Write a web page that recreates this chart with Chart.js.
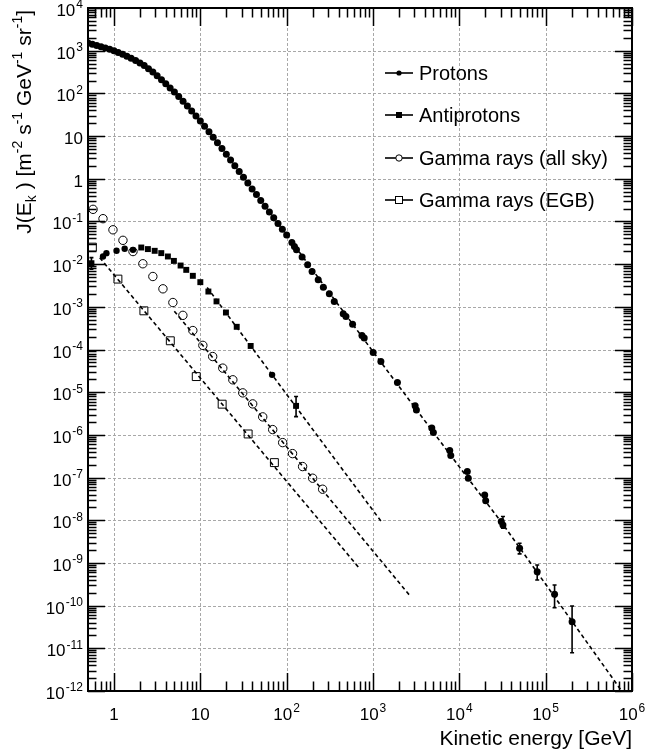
<!doctype html>
<html lang="en">
<head>
<meta charset="utf-8">
<title>Cosmic ray spectra</title>
<script src="https://cdn.jsdelivr.net/npm/chart.js"></script>
<style>
  body { margin: 0; background: #fff; }
  canvas { display: block; }
</style>
</head>
<body>
<canvas id="spectrum" width="647" height="753"></canvas>
<script>
// ---- data ----
const protonE = [0.501, 0.562, 0.631, 0.708, 0.794, 0.891, 1.0, 1.12, 1.26, 1.41, 1.58, 1.78, 2.0, 2.24, 2.51, 2.82,
  3.16, 3.55, 3.98, 4.47, 5.01, 5.62, 6.31, 7.08, 7.94, 8.91, 10, 11.2, 12.6, 14.1, 15.8, 17.8, 20, 22.4, 25.1, 28.2,
  31.6, 35.5, 39.8, 44.7, 50.1, 56.2, 63.1, 70.8, 79.4, 89.1, 100,
  115, 123, 130, 151, 175, 197, 232, 266, 312, 356, 452, 486, 580, 745, 791, 1005, 1234, 1919,
  3076, 3184, 4797, 5003, 7745, 7960, 12370, 12700, 19670, 20200, 30600, 32000, 49900, 79800, 126800, 202300];
const protonJ = [1514, 1422, 1324, 1236, 1153, 1076, 1000, 912, 828, 745, 664, 586, 515, 447, 380, 317,
  258, 209, 168, 134, 108, 84.7, 65.8, 50.7, 38.9, 29.6, 22.5, 17.0, 12.7, 9.44, 6.97, 5.11, 3.74, 2.74, 2.01, 1.47,
  1.08, 0.791, 0.579, 0.425, 0.311, 0.228, 0.167, 0.122, 0.0897, 0.0658, 0.0482,
  0.032, 0.0259, 0.0216, 0.0146, 0.00964, 0.00671, 0.00428, 0.00289, 0.00201, 0.00133, 6.84e-4, 5.92e-4, 3.93e-4,
  2.12e-4, 1.85e-4, 8.47e-5, 5.21e-5, 1.68e-5,
  4.78e-6, 3.84e-6, 1.44e-6, 1.13e-6, 4.29e-7, 3.27e-7, 1.38e-7, 9.66e-8, 3.92e-8, 2.88e-8, 9.29e-9, 7.76e-9,
  2.21e-9, 6.25e-10, 1.85e-10, 4.21e-11];
// error bars on the last proton points (index from the end)
const protonErrLo = [null, 6.5e-9, 1.63e-9, 3.99e-10, 8.95e-11, 7.9e-12];
const protonErrHi = [null, 1.22e-8, 2.89e-9, 8.97e-10, 3.05e-10, 9.82e-11];

const pbarE = [0.548, 2.07, 2.47, 2.96, 3.53, 4.21, 4.94, 5.91, 6.87, 8.19, 10.0, 12.4, 15.4, 19.8, 26.4, 38.3, 128.5];
const pbarJ = [0.0105, 0.0245, 0.0225, 0.0205, 0.0181, 0.0151, 0.0119, 9.27e-3, 7.34e-3, 5.32e-3, 3.78e-3, 2.28e-3,
  1.34e-3, 7.35e-4, 3.40e-4, 1.21e-4, 4.78e-6];
const pbarErrLo = [7.6e-3, null, null, null, null, null, null, null, null, null, null, null, null, null, null, null, 2.68e-6];
const pbarErrHi = [0.0142, null, null, null, null, null, null, null, null, null, null, null, null, null, null, null, 7.9e-6];
// antiproton points drawn with round markers
const pbarDotE = [0.746, 0.817, 1.07, 1.33, 1.66, 67.8];
const pbarDotJ = [0.0151, 0.0181, 0.0205, 0.0229, 0.0216, 2.55e-5];

const allSkyE = [0.572, 0.746, 0.973, 1.27, 1.66, 2.16, 2.82, 3.69, 4.81, 6.28, 8.19, 10.7, 13.9, 18.2, 23.8, 31.0,
  40.4, 52.8, 68.9, 89.9, 117, 153, 200, 261];
const allSkyJ = [0.192, 0.116, 0.0637, 0.0361, 0.0197, 0.0102, 5.13e-3, 2.64e-3, 1.26e-3, 6.31e-4, 2.78e-4, 1.25e-4,
  6.84e-5, 3.66e-5, 1.95e-5, 9.64e-6, 5.32e-6, 2.64e-6, 1.33e-6, 6.59e-7, 3.64e-7, 1.81e-7, 9.66e-8, 5.33e-8];

const egbE = [0.562, 1.11, 2.22, 4.49, 8.97, 17.9, 35.8, 72.1];
const egbJ = [0.025, 4.46e-3, 8.05e-4, 1.60e-4, 2.32e-5, 5.24e-6, 1.05e-6, 2.24e-7];

// dashed model / fit lines
const protonFitE = [79.4, 100, 1000, 1e4, 31600, 1e5, 316000, 760000];
const protonFitJ = [0.0891, 0.0482, 8.91e-5, 1.78e-7, 8.32e-9, 3.16e-10, 1.2e-11, 1e-12];
const pbarFitE = [12, 1290];
const pbarFitJ = [2.83e-3, 8.5e-9];
const allSkyFitE = [5, 2620];
const allSkyFitJ = [7.9e-4, 1.8e-10];
const egbFitE = [0.684, 711];
const egbFitJ = [0.0141, 7.1e-10];

// axis ticks and labels
const xTicks = [1, 10, 100, 1e3, 1e4, 1e5, 1e6];
const xTickLabels = [['1', ''], ['10', ''], ['10', '2'], ['10', '3'], ['10', '4'], ['10', '5'], ['10', '6']];
const yTicks = [1e-12, 1e-11, 1e-10, 1e-9, 1e-8, 1e-7, 1e-6, 1e-5, 1e-4, 1e-3, 1e-2, 1e-1, 1, 10, 100, 1e3, 1e4];
const yTickLabels = [['10', '-12'], ['10', '-11'], ['10', '-10'], ['10', '-9'], ['10', '-8'], ['10', '-7'],
  ['10', '-6'], ['10', '-5'], ['10', '-4'], ['10', '-3'], ['10', '-2'], ['10', '-1'], ['1', ''], ['10', ''],
  ['10', '2'], ['10', '3'], ['10', '4']];
const legendLabels = ['Protons', 'Antiprotons', 'Gamma rays (all sky)', 'Gamma rays (EGB)'];

const FONT = '"Liberation Sans", Arial, Helvetica, sans-serif';

function pts(xs, ys) {
  return xs.map((x, i) => ({ x: x, y: ys[i] }));
}

function padErr(arr, n) {
  // align a short error list with the end of a longer series
  const out = new Array(n - arr.length).fill(null);
  return out.concat(arr);
}

function markers(data, style, radius, filled, order) {
  return {
    data: data,
    showLine: false,
    pointStyle: style,
    pointRadius: radius,
    pointHoverRadius: radius,
    pointBorderWidth: filled ? 0 : 1,
    pointBorderColor: '#000',
    pointBackgroundColor: filled ? '#000' : 'rgba(0,0,0,0)',
    order: order
  };
}

function dashed(data) {
  return {
    data: data,
    showLine: true,
    borderColor: '#000',
    borderWidth: 1.6,
    borderDash: [4, 3],
    pointRadius: 0,
    tension: 0,
    order: 10
  };
}

const protonSet = markers(pts(protonE, protonJ), 'circle', 3.5, true, 1);
protonSet.errLo = padErr(protonErrLo, protonE.length);
protonSet.errHi = padErr(protonErrHi, protonE.length);
const pbarSet = markers(pts(pbarE, pbarJ), 'rect', 4.2, true, 1);
pbarSet.errLo = pbarErrLo;
pbarSet.errHi = pbarErrHi;

function drawPow(ctx, base, exp, x, y, align, size) {
  const small = Math.round(size * 0.7);
  ctx.font = size + 'px ' + FONT;
  const wb = ctx.measureText(base).width;
  ctx.font = small + 'px ' + FONT;
  const we = exp ? ctx.measureText(exp).width + 1 : 0;
  const w = wb + we;
  const x0 = align === 'right' ? x - w : x - w / 2;
  ctx.textAlign = 'left';
  ctx.textBaseline = 'alphabetic';
  ctx.font = size + 'px ' + FONT;
  ctx.fillText(base, x0, y);
  if (exp) {
    ctx.font = small + 'px ' + FONT;
    ctx.fillText(exp, x0 + wb + 1, y - size * 0.45);
  }
}

const gridPlugin = {
  id: 'rootGrid',
  beforeDatasetsDraw(chart) {
    const { ctx, chartArea: a, scales } = chart;
    ctx.save();
    ctx.strokeStyle = '#a8a8a8';
    ctx.lineWidth = 1;
    ctx.setLineDash([3, 2]);
    xTicks.forEach(v => {
      const px = Math.round(scales.x.getPixelForValue(v)) + 0.5;
      ctx.beginPath(); ctx.moveTo(px, a.top); ctx.lineTo(px, a.bottom); ctx.stroke();
    });
    yTicks.forEach(v => {
      const py = Math.round(scales.y.getPixelForValue(v)) + 0.5;
      ctx.beginPath(); ctx.moveTo(a.left, py); ctx.lineTo(a.right, py); ctx.stroke();
    });
    ctx.restore();
  }
};

const errorBars = {
  id: 'errorBars',
  afterDatasetsDraw(chart) {
    const ctx = chart.ctx, xs = chart.scales.x, ys = chart.scales.y;
    ctx.save();
    ctx.strokeStyle = '#000';
    ctx.lineWidth = 1.6;
    chart.data.datasets.forEach(ds => {
      if (!ds.errLo) return;
      ds.data.forEach((p, i) => {
        if (ds.errLo[i] == null) return;
        const px = xs.getPixelForValue(p.x);
        const y1 = ys.getPixelForValue(ds.errLo[i]);
        const y2 = ys.getPixelForValue(ds.errHi[i]);
        ctx.beginPath();
        ctx.moveTo(px, y1); ctx.lineTo(px, y2);
        ctx.moveTo(px - 2, y1); ctx.lineTo(px + 2, y1);
        ctx.moveTo(px - 2, y2); ctx.lineTo(px + 2, y2);
        ctx.stroke();
      });
    });
    ctx.restore();
  }
};

const framePlugin = {
  id: 'rootFrame',
  afterDraw(chart) {
    const { ctx, chartArea: a, scales } = chart;
    ctx.save();
    ctx.strokeStyle = '#000';
    ctx.fillStyle = '#000';

    // ticks, pointing inwards, mirrored on all four sides
    ctx.lineWidth = 1.5;
    ctx.beginPath();
    for (let d = -12; d <= 4; d++) {
      for (let k = 1; k <= 9; k++) {
        const v = k * Math.pow(10, d);
        if (v < 1e-12 || v > 1e4) continue;
        const py = Math.round(scales.y.getPixelForValue(v)) + 0.5;
        const len = k === 1 ? 17 : 8.5;
        ctx.moveTo(a.left, py); ctx.lineTo(a.left + len, py);
        ctx.moveTo(a.right, py); ctx.lineTo(a.right - len, py);
      }
    }
    for (let d = -1; d <= 6; d++) {
      for (let k = 1; k <= 9; k++) {
        const v = k * Math.pow(10, d);
        if (v <= 0.5 || v > 1e6) continue;
        const px = Math.round(scales.x.getPixelForValue(v)) + 0.5;
        const len = k === 1 ? 18 : 9.5;
        ctx.moveTo(px, a.bottom); ctx.lineTo(px, a.bottom - len);
        ctx.moveTo(px, a.top); ctx.lineTo(px, a.top + len);
      }
    }
    ctx.stroke();

    // frame
    ctx.lineWidth = 2;
    ctx.strokeRect(a.left, a.top, a.right - a.left, a.bottom - a.top);

    // tick labels
    yTicks.forEach((v, i) => {
      const py = scales.y.getPixelForValue(v);
      drawPow(ctx, yTickLabels[i][0], yTickLabels[i][1], 83, py + 8, 'right', 17);
    });
    xTicks.forEach((v, i) => {
      const px = scales.x.getPixelForValue(v);
      drawPow(ctx, xTickLabels[i][0], xTickLabels[i][1], px, 720, 'center', 17);
    });

    // x title
    ctx.font = '21px ' + FONT;
    ctx.textAlign = 'right';
    ctx.textBaseline = 'alphabetic';
    ctx.fillText('Kinetic energy [GeV]', a.right, 745);

    // y title, rotated, ending at the top of the frame
    const parts = [['J(E', 0], ['k', 1], [' ) [m', 0], ['-2', -1], [' s', 0], ['-1', -1], [' GeV', 0], ['-1', -1],
      [' sr', 0], ['-1', -1], [']', 0]];
    const big = 21, small = 14;
    let total = 0;
    parts.forEach(p => {
      ctx.font = (p[1] ? small : big) + 'px ' + FONT;
      total += ctx.measureText(p[0]).width;
    });
    ctx.translate(31, 10);
    ctx.rotate(-Math.PI / 2);
    ctx.textAlign = 'left';
    let cx = -total;
    parts.forEach(p => {
      ctx.font = (p[1] ? small : big) + 'px ' + FONT;
      const dy = p[1] === 1 ? 5 : (p[1] === -1 ? -9 : 0);
      ctx.fillText(p[0], cx, dy);
      cx += ctx.measureText(p[0]).width;
    });
    ctx.setTransform(1, 0, 0, 1, 0, 0);

    // legend
    const rows = [73, 115, 158, 200];
    ctx.font = '20px ' + FONT;
    ctx.textAlign = 'left';
    ctx.textBaseline = 'middle';
    rows.forEach((ry, i) => {
      ctx.lineWidth = 1.6;
      ctx.beginPath(); ctx.moveTo(385, ry); ctx.lineTo(413, ry); ctx.stroke();
      ctx.lineWidth = 1;
      if (i === 0) {
        ctx.beginPath(); ctx.arc(399, ry, 2.6, 0, Math.PI * 2); ctx.fill();
      } else if (i === 1) {
        ctx.fillRect(396, ry - 3, 6, 6);
      } else if (i === 2) {
        ctx.fillStyle = '#fff';
        ctx.beginPath(); ctx.arc(399, ry, 3.2, 0, Math.PI * 2); ctx.fill(); ctx.stroke();
        ctx.fillStyle = '#000';
      } else {
        ctx.fillStyle = '#fff';
        ctx.fillRect(395.5, ry - 3.5, 7, 7); ctx.strokeRect(395.5, ry - 3.5, 7, 7);
        ctx.fillStyle = '#000';
      }
      ctx.fillText(legendLabels[i], 419, ry + 1);
    });
    ctx.restore();
  }
};

new Chart(document.getElementById('spectrum'), {
  type: 'scatter',
  data: {
    datasets: [
      protonSet,
      pbarSet,
      markers(pts(pbarDotE, pbarDotJ), 'circle', 3.2, true, 1),
      markers(pts(allSkyE, allSkyJ), 'circle', 4.2, false, 2),
      markers(pts(egbE, egbJ), 'rect', 5.6, false, 2),
      dashed(pts(protonFitE, protonFitJ)),
      dashed(pts(pbarFitE, pbarFitJ)),
      dashed(pts(allSkyFitE, allSkyFitJ)),
      dashed(pts(egbFitE, egbFitJ))
    ]
  },
  options: {
    responsive: false,
    animation: false,
    devicePixelRatio: 1,
    layout: { padding: { left: 88, right: 15, top: 8, bottom: 62 } },
    plugins: { legend: { display: false }, tooltip: { enabled: false } },
    scales: {
      x: {
        type: 'logarithmic', min: 0.5, max: 1e6,
        ticks: { display: false }, grid: { display: false }, border: { display: false },
        afterFit: s => { s.height = 0; }
      },
      y: {
        type: 'logarithmic', min: 1e-12, max: 1e4,
        ticks: { display: false }, grid: { display: false }, border: { display: false },
        afterFit: s => { s.width = 0; }
      }
    }
  },
  plugins: [gridPlugin, errorBars, framePlugin]
});
</script>
</body>
</html>
